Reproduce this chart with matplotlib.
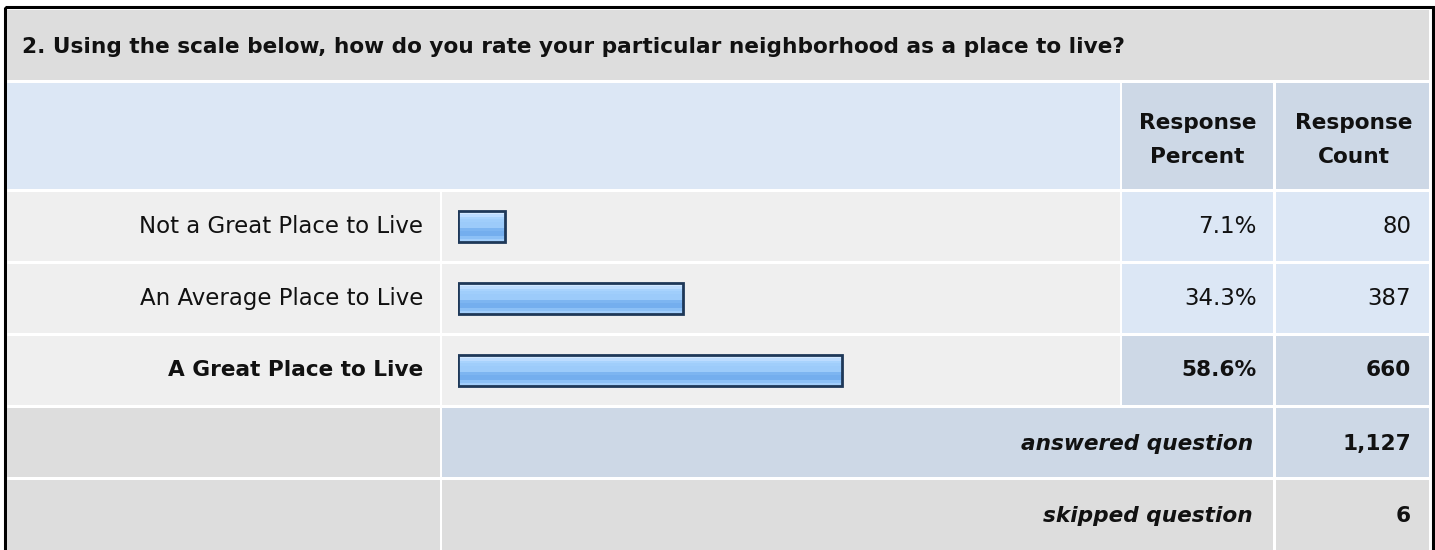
import numpy as np
import matplotlib
matplotlib.use("Agg")
import matplotlib.pyplot as plt
from matplotlib.patches import Rectangle
from matplotlib.colors import to_rgb

plt.rcParams['font.family'] = ['DejaVu Sans']

# данные опроса
question = "2. Using the scale below, how do you rate your particular neighborhood as a place to live?"
answers = ["Not a Great Place to Live", "An Average Place to Live", "A Great Place to Live"]
percents = [7.1, 34.3, 58.6]
counts = [80, 387, 660]
answered = 1127
skipped = 6

W, H = 1435, 550
fig = plt.figure(figsize=(W / 100, H / 100), dpi=100)
fig.patch.set_facecolor('white')
ax = fig.add_axes([0, 0, 1, 1])
ax.set_xlim(0, W)
ax.set_ylim(H, 0)
ax.axis('off')

GRAY = '#dddddd'
LIGHT = '#efefef'
BLUE_L = '#dce7f5'
BLUE_D = '#cdd8e6'
FS_B = 15.6   # жирный
FS_R = 16.5   # обычный

# колонки и строки таблицы (пиксели)
cols = [(7, 440), (442, 1120), (1122, 1273), (1276, 1429)]
rows = [(192, 261), (264, 333), (336, 405)]
best = int(np.argmax(percents))


def cell(x0, x1, y0, y1, color):
    ax.add_patch(Rectangle((x0, y0), x1 - x0, y1 - y0, facecolor=color, edgecolor='none'))


# внешняя рамка
ax.add_patch(Rectangle((4.5, 6.5), 1428, 560, facecolor='none', edgecolor='black', linewidth=2.2))

# заголовок
cell(7, 1429, 10, 80, GRAY)
ax.text(22, 47, question, fontsize=FS_B, fontweight='bold', va='center', ha='left', color='#111111')

# шапка
cell(7, 1120, 83, 189, BLUE_L)
cell(*cols[2], 83, 189, BLUE_D)
cell(*cols[3], 83, 189, BLUE_D)
ax.text(sum(cols[2]) / 2, 140, "Response\nPercent", fontsize=FS_B, fontweight='bold',
        ha='center', va='center', linespacing=1.85, color='#111111')
ax.text(sum(cols[3]) / 2 + 1, 140, "Response\nCount", fontsize=FS_B, fontweight='bold',
        ha='center', va='center', linespacing=1.85, color='#111111')

# строки ответов
for i, (name, p, c) in enumerate(zip(answers, percents, counts)):
    y0, y1 = rows[i]
    yc = (y0 + y1) / 2
    is_best = i == best
    wt = 'bold' if is_best else 'normal'
    fs = FS_B if is_best else FS_R
    tone = BLUE_D if is_best else BLUE_L
    cell(*cols[0], y0, y1, LIGHT)
    cell(*cols[1], y0, y1, LIGHT)
    cell(*cols[2], y0, y1, tone)
    cell(*cols[3], y0, y1, tone)
    ax.text(423, yc, name, fontsize=fs, fontweight=wt, ha='right', va='center', color='#111111')
    ax.text(1257, yc, f"{p:.1f}%", fontsize=fs, fontweight=wt, ha='right', va='center', color='#111111')
    ax.text(1411, yc, f"{c:,}", fontsize=fs, fontweight=wt, ha='right', va='center', color='#111111')

# итоги
cell(*cols[0], 408, 477, GRAY)
cell(442, 1273, 408, 477, BLUE_D)
cell(*cols[3], 408, 477, BLUE_D)
ax.text(1253, 444, "answered question", fontsize=FS_B, fontweight='bold', style='italic',
        ha='right', va='center', color='#111111')
ax.text(1411, 444, f"{answered:,}", fontsize=FS_B, fontweight='bold', ha='right', va='center', color='#111111')

cell(*cols[0], 480, 560, GRAY)
cell(442, 1273, 480, 560, GRAY)
cell(*cols[3], 480, 560, GRAY)
ax.text(1253, 516, "skipped question", fontsize=FS_B, fontweight='bold', style='italic',
        ha='right', va='center', color='#111111')
ax.text(1411, 516, f"{skipped:,}", fontsize=FS_B, fontweight='bold', ha='right', va='center', color='#111111')

# полосы: отдельные оси, 100% = 655 px
bx = fig.add_axes([458 / W, 1 - 406.5 / H, 655 / W, 216 / H])
bx.patch.set_alpha(0)
bx.axis('off')
ypos = np.arange(len(answers))
bars = bx.barh(ypos, percents, height=0.42, facecolor='none', edgecolor='#1e3858',
               linewidth=2.0, zorder=3)

stripes = ['#d2e8ff', '#bcdcff', '#a8d3fd', '#a0cefb', '#9ccbfa', '#9ccbfa',
           '#7db5f1', '#74aeee', '#74aeee', '#8cc0f6', '#a2cefb']
grad = np.array([to_rgb(s) for s in stripes]).reshape(len(stripes), 1, 3)
for b in bars:
    x, y, w, h = b.get_x(), b.get_y(), b.get_width(), b.get_height()
    bx.imshow(grad, extent=(x, x + w, y + h, y), origin='upper', aspect='auto',
              interpolation='nearest', zorder=2)

bx.set_xlim(0, 100)
bx.set_ylim(len(answers) - 0.5, -0.5)

fig.savefig("out.png", dpi=100, facecolor='white')
